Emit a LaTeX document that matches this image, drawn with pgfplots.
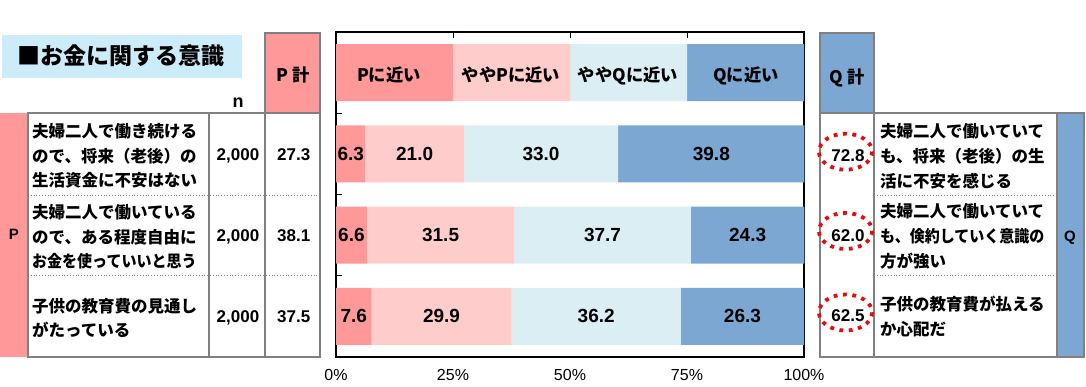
\documentclass[border=0pt]{standalone}
\usepackage{pgfplots}
\pgfplotsset{compat=1.18}
\usepackage{fontspec}
\setmainfont{Liberation Sans}
\newfontfamily\jp{Noto Sans CJK JP}
\definecolor{cP}{RGB}{255,153,153}
\definecolor{cp}{RGB}{255,204,204}
\definecolor{cq}{RGB}{218,238,243}
\definecolor{cQ}{RGB}{124,167,211}
\definecolor{ctitle}{RGB}{204,236,250}
\definecolor{gline}{RGB}{128,128,128}
\definecolor{cred}{RGB}{235,10,10}
\begin{document}
\begin{tikzpicture}
\path[use as bounding box] (0,0) rectangle (1086pt,-387pt);
\begin{axis}[
  at={(336pt,-357pt)}, anchor=south west,
  width=468pt, height=325pt, scale only axis,
  xbar stacked, bar width=57pt,
  xmin=0, xmax=100, ymin=-0.5, ymax=3.5, y dir=reverse,
  axis line style={black, line width=1.5pt},
  xtick={0,25,50,75,100}, xticklabels={0\%,25\%,50\%,75\%,100\%},
  xtick pos=right, xticklabel pos=left,
  ytick={0.5,1.5,2.5}, yticklabels={}, ytick pos=left,
  tick align=inside, major tick length=6pt,
  tick style={black, line width=1pt},
  xticklabel style={font=\fontsize{16}{16}\selectfont, yshift=-9pt},
  point meta=explicit symbolic,
  nodes near coords,
  every node near coord/.append style={anchor=center, font=\fontsize{19}{19}\selectfont\bfseries, text=black},
  clip=false,
]
\addplot[fill=cP, draw=none] coordinates {(25,0)[{}] (6.3,1)[6.3] (6.6,2)[6.6] (7.6,3)[7.6]};
\addplot[fill=cp, draw=none] coordinates {(25,0)[{}] (21.0,1)[21.0] (31.5,2)[31.5] (29.9,3)[29.9]};
\addplot[fill=cq, draw=none] coordinates {(25,0)[{}] (33.0,1)[33.0] (37.7,2)[37.7] (36.2,3)[36.2]};
\addplot[fill=cQ, draw=none] coordinates {(25,0)[{}] (39.8,1)[39.8] (24.3,2)[24.3] (26.3,3)[26.3]};
\end{axis}
\begin{scope}[x=1pt,y=-1pt,
  jpt/.style={anchor=base west, inner sep=0pt, font=\jp\bfseries\fontsize{16.5}{16.5}\selectfont},
  num/.style={anchor=base, inner sep=0pt, font=\bfseries\fontsize{17}{17}\selectfont},
  hdr/.style={anchor=base, inner sep=0pt, font=\jp\bfseries\fontsize{17.3}{17.3}\selectfont}]
% title
\fill[ctitle] (2,35) rectangle (242,78);
\node[anchor=west, inner sep=0pt, font=\jp\bfseries\fontsize{23}{23}\selectfont] at (17,56) {■お金に関する意識};
% left table
\fill[cP] (0,113) rectangle (28,357);
\fill[cP] (265,33) rectangle (320,113);
\draw[gline, line width=1.5pt] (265,33) rectangle (320,113);
\draw[gline, line width=1.5pt] (28,113) rectangle (320,357);
\draw[gline, line width=1.5pt] (209,113) -- (209,357) (265,113) -- (265,357);
\draw[gline, dotted, line width=0.8pt] (28,195) -- (320,195) (28,275.7) -- (320,275.7);
\node[hdr] at (293,81.5) {P 計};
\node[anchor=base, inner sep=0pt, font=\bfseries\fontsize{18}{18}\selectfont] at (238,108) {n};
\node[anchor=base, inner sep=0pt, font=\bfseries\fontsize{15}{15}\selectfont] at (14,239.5) {P};
% left texts
\node[jpt] at (32,138) {夫婦二人で働き続ける};
\node[jpt] at (32,162.3) {ので、将来（老後）の};
\node[jpt] at (32,186.6) {生活資金に不安はない};
\node[jpt] at (32,218.8) {夫婦二人で働いている};
\node[jpt] at (32,243.1) {ので、ある程度自由に};
\node[jpt, xscale=0.91] at (32,267.4) {お金を使っていいと思う};
\node[jpt] at (32,312.6) {子供の教育費の見通し};
\node[jpt] at (32,336.9) {がたっている};
\node[num] at (238,160.4) {2,000};
\node[num] at (238,241.4) {2,000};
\node[num] at (238,322) {2,000};
\node[num] at (293.7,160.4) {27.3};
\node[num] at (293.7,241.4) {38.1};
\node[num] at (293.7,322) {37.5};
% chart header labels
\node[hdr] at (389,81.5) {Pに近い};
\node[hdr] at (511,81.5) {ややPに近い};
\node[hdr] at (628,81.5) {ややQに近い};
\node[hdr] at (746,81.5) {Qに近い};
% right table
\fill[cQ] (820,33) rectangle (874,113);
\draw[gline, line width=1.5pt] (820,33) rectangle (874,113);
\fill[cQ] (1057,113) rectangle (1084,357);
\draw[gline, line width=1.5pt] (820,113) rectangle (1084,357);
\draw[gline, line width=1.5pt] (874,113) -- (874,357) (1057,113) -- (1057,357);
\draw[gline, dotted, line width=0.8pt] (874,195) -- (1057,195) (874,275.7) -- (1057,275.7);
\node[hdr] at (847,83.5) {Q 計};
\node[anchor=base, inner sep=0pt, font=\bfseries\fontsize{15}{15}\selectfont] at (1070,241.5) {Q};
\node[jpt] at (880,138) {夫婦二人で働いていて};
\node[jpt] at (880,163) {も、将来（老後）の生};
\node[jpt] at (880,188) {活に不安を感じる};
\node[jpt] at (880,218) {夫婦二人で働いていて};
\node[jpt, xscale=0.91] at (880,243) {も、倹約していく意識の};
\node[jpt] at (880,268) {方が強い};
\node[jpt] at (880,310.3) {子供の教育費が払える};
\node[jpt] at (880,335.3) {か心配だ};
\node[num] at (848,161.1) {72.8};
\node[num] at (848,241.1) {62.0};
\node[num] at (848,321.1) {62.5};
\foreach \cy in {151.7,231,312.5}
  \draw[cred, line width=3.8pt, dash pattern=on 3.8pt off 5.6pt] (845.5,\cy) ellipse [x radius=26.6, y radius=18];
\end{scope}
\end{tikzpicture}
\end{document}
